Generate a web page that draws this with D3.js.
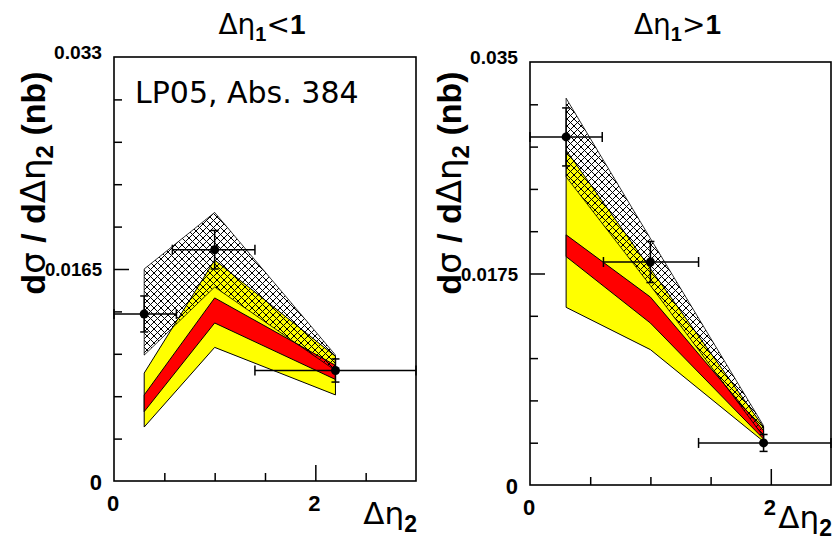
<!DOCTYPE html>
<html>
<head>
<meta charset="utf-8">
<script src="https://cdn.jsdelivr.net/npm/d3@7"></script>
<style>
body { margin: 0; background: #fff; }
svg { display: block; }
</style>
</head>
<body>
<svg id="chart_svg" width="840" height="543"></svg>
<script>
// ---- left panel: d(eta1) < 1 ----
var X_L      = [0.3, 1.0, 2.2];
var DATA_L   = [0.0130, 0.0180, 0.0086];
var YERR_L   = [0.0014, 0.0015, 0.0009];
var XLO_L    = [0.0, 0.58, 1.4];
var XHI_L    = [0.62, 1.4, 3.0];
var YEL_LO_L = [0.0042, 0.0104, 0.0067];
var YEL_HI_L = [0.0084, 0.0172, 0.0097];
var RED_LO_L = [0.0054, 0.0123, 0.0079];
var RED_HI_L = [0.0067, 0.01425, 0.0090];
var HAT_LO_L = [0.0098, 0.0151, 0.0086];
var HAT_HI_L = [0.0165, 0.0209, 0.0098];
var YMINOR_L = [0.0033, 0.0066, 0.0099, 0.0132, 0.0198, 0.0231, 0.0264, 0.0297];
var YMAJOR_L = [0.0165];
var YLAB_L   = ["0", "0.0165", "0.033"];

// ---- right panel: d(eta1) > 1 ----
var X_R      = [0.3, 1.0, 1.94];
var DATA_R   = [0.0288, 0.01845, 0.00348];
var YERR_R   = [0.0024, 0.0017, 0.0007];
var XLO_R    = [0.0, 0.61, 1.4];
var XHI_R    = [0.6, 1.4, 2.5];
var YEL_LO_R = [0.0147, 0.0112, 0.0036];
var YEL_HI_R = [0.0277, 0.0179, 0.0048];
var RED_LO_R = [0.0189, 0.0134, 0.0038];
var RED_HI_R = [0.0207, 0.01555, 0.0045];
var HAT_LO_R = [0.0255, 0.0165, 0.0040];
var HAT_HI_R = [0.0320, 0.0204, 0.0049];
var YMINOR_R = [0.0035, 0.007, 0.0105, 0.014, 0.021, 0.0245, 0.028, 0.0315];
var YMAJOR_R = [0.0175];
var YLAB_R   = ["0", "0.0175", "0.035"];

var XMINOR = [0.5, 1.0, 1.5, 2.5];
var XMAJOR = [2];
var XLAB   = ["0", "2"];

var FONT   = "'Liberation Sans', Arial, sans-serif";
var FONT_G = "'DejaVu Sans', sans-serif";

var svg = d3.select("#chart_svg");

function addHatch(){
    // diamond cross-hatch, black lines on transparent
    var pat = svg.append("defs").append("pattern")
        .attr("id", "xhatch")
        .attr("patternUnits", "userSpaceOnUse")
        .attr("width", 7)
        .attr("height", 7);
    pat.append("path")
        .attr("d", "M0,0L7,7M7,0L0,7")
        .attr("stroke", "#000")
        .attr("stroke-width", 1)
        .attr("fill", "none");
}

function drawPanel(p){
    var x = d3.scaleLinear().domain([0, p.xmax]).range([p.left, p.right]);
    var y = d3.scaleLinear().domain([0, p.ymax]).range([p.bottom, p.top]);
    var g = svg.append("g");

    // bands: yellow, red, hatched on top
    function band(lo, hi){
        return d3.area()
            .x(function(d, i){ return x(p.xs[i]); })
            .y0(function(d, i){ return y(lo[i]); })
            .y1(function(d, i){ return y(hi[i]); })(p.xs);
    }
    g.append("path").attr("d", band(p.yelLo, p.yelHi))
        .attr("fill", "#ffff00").attr("stroke", "#000").attr("stroke-width", 1);
    g.append("path").attr("d", band(p.redLo, p.redHi))
        .attr("fill", "#ff0000").attr("stroke", "#000").attr("stroke-width", 1);
    g.append("path").attr("d", band(p.hatLo, p.hatHi))
        .attr("fill", "url(#xhatch)").attr("stroke", "#000").attr("stroke-width", 0.8);

    // data points with error bars
    var pts = g.selectAll("g.pt")
        .data(p.vals.map(function(v, i){
            return {x: p.xs[i], v: v, e: p.err[i], lo: p.xlo[i], hi: p.xhi[i]};
        }))
        .enter().append("g")
        .attr("stroke", "#000")
        .attr("stroke-width", 1.5);
    pts.append("line")
        .attr("x1", function(d){ return x(d.lo); })
        .attr("x2", function(d){ return x(d.hi); })
        .attr("y1", function(d){ return y(d.v); })
        .attr("y2", function(d){ return y(d.v); });
    pts.append("line")
        .attr("x1", function(d){ return x(d.x); })
        .attr("x2", function(d){ return x(d.x); })
        .attr("y1", function(d){ return y(d.v - d.e); })
        .attr("y2", function(d){ return y(d.v + d.e); });
    // caps
    ["lo", "hi"].forEach(function(k){
        pts.append("line")
            .attr("x1", function(d){ return x(d[k]); })
            .attr("x2", function(d){ return x(d[k]); })
            .attr("y1", function(d){ return y(d.v) - 5; })
            .attr("y2", function(d){ return y(d.v) + 5; });
    });
    [-1, 1].forEach(function(s){
        pts.append("line")
            .attr("x1", function(d){ return x(d.x) - 4; })
            .attr("x2", function(d){ return x(d.x) + 4; })
            .attr("y1", function(d){ return y(d.v + s * d.e); })
            .attr("y2", function(d){ return y(d.v + s * d.e); });
    });
    pts.append("circle")
        .attr("cx", function(d){ return x(d.x); })
        .attr("cy", function(d){ return y(d.v); })
        .attr("r", 4.5)
        .attr("fill", "#000")
        .attr("stroke", "none");

    // frame
    g.append("rect")
        .attr("x", p.left).attr("y", p.top)
        .attr("width", p.right - p.left).attr("height", p.bottom - p.top)
        .attr("fill", "none").attr("stroke", "#000").attr("stroke-width", 1.6);

    // ticks (inside the frame)
    function ticks(axis){
        return function(s){
            s.call(axis);
            s.select(".domain").remove();
            s.selectAll(".tick line").attr("stroke-width", 1.5);
        };
    }
    g.append("g").attr("transform", "translate(" + p.left + ",0)")
        .call(ticks(d3.axisLeft(y).tickValues(p.yMinor).tickSize(-8).tickFormat("")));
    g.append("g").attr("transform", "translate(" + p.left + ",0)")
        .call(ticks(d3.axisLeft(y).tickValues(p.yMajor).tickSize(-15).tickFormat("")));
    g.append("g").attr("transform", "translate(0," + p.bottom + ")")
        .call(ticks(d3.axisBottom(x).tickValues(XMINOR.filter(function(v){ return v < p.xmax; })).tickSize(-8).tickFormat("")));
    g.append("g").attr("transform", "translate(0," + p.bottom + ")")
        .call(ticks(d3.axisBottom(x).tickValues(XMAJOR).tickSize(-16).tickFormat("")));

    // tick labels
    g.append("text")
        .attr("x", p.left - 12).attr("y", y(0) + 9)
        .attr("text-anchor", "end")
        .style("font-family", FONT).style("font-weight", "bold").style("font-size", "22px")
        .text(p.yLab[0]);
    g.append("text")
        .attr("x", p.left - 12).attr("y", y(p.ymax / 2) + 7)
        .attr("text-anchor", "end")
        .attr("textLength", 57).attr("lengthAdjust", "spacingAndGlyphs")
        .style("font-family", FONT).style("font-weight", "bold").style("font-size", "18px")
        .text(p.yLab[1]);
    g.append("text")
        .attr("x", p.left - 12).attr("y", y(p.ymax) + 2)
        .attr("text-anchor", "end")
        .attr("textLength", 48).attr("lengthAdjust", "spacingAndGlyphs")
        .style("font-family", FONT).style("font-weight", "bold").style("font-size", "18px")
        .text(p.yLab[2]);
    g.selectAll("text.xl")
        .data(XLAB)
        .enter().append("text")
        .attr("class", "xl")
        .attr("x", function(d){ return x(+d) - 1; })
        .attr("y", p.bottom + 30)
        .attr("text-anchor", "middle")
        .style("font-family", FONT).style("font-weight", "bold").style("font-size", "22px")
        .text(function(d){ return d; });

    // x title
    var xt = g.append("text")
        .attr("x", p.right + 1).attr("y", p.bottom + 43)
        .attr("text-anchor", "end")
        .style("font-family", FONT_G).style("font-size", "31px");
    xt.append("tspan").text("Δη");
    xt.append("tspan").attr("dy", 8).style("font-family", FONT).style("font-weight", "bold")
        .style("font-size", "23px").text("2");

    // y title (rotated)
    var yt = g.append("text")
        .attr("transform", "translate(" + (p.left - 69) + ",183) rotate(-90)")
        .attr("text-anchor", "middle")
        .style("font-family", FONT).style("font-weight", "bold").style("font-size", "34px");
    yt.append("tspan").text("d");
    yt.append("tspan").style("font-family", FONT_G).style("font-weight", "normal").text("σ");
    yt.append("tspan").text(" / d");
    yt.append("tspan").style("font-family", FONT_G).style("font-weight", "normal").text("Δη");
    yt.append("tspan").attr("dy", 8).style("font-size", "24px").text("2");
    yt.append("tspan").attr("dy", -8).text(" (nb)");

    // panel title
    var tt = g.append("text")
        .attr("x", (p.left + p.right) / 2 - 3).attr("y", 34)
        .attr("text-anchor", "middle")
        .style("font-family", FONT_G).style("font-size", "28px");
    tt.append("tspan").text("Δη");
    tt.append("tspan").attr("dy", 7).style("font-family", FONT).style("font-weight", "bold")
        .style("font-size", "20px").text("1");
    tt.append("tspan").attr("dy", -7).text(p.cut);
    tt.append("tspan").style("font-family", FONT).style("font-weight", "bold").text("1");
}

addHatch();

drawPanel({
    left: 114, right: 416, top: 57, bottom: 481, xmax: 3.0, ymax: 0.033,
    xs: X_L, vals: DATA_L, err: YERR_L, xlo: XLO_L, xhi: XHI_L,
    yelLo: YEL_LO_L, yelHi: YEL_HI_L, redLo: RED_LO_L, redHi: RED_HI_L,
    hatLo: HAT_LO_L, hatHi: HAT_HI_L,
    yMinor: YMINOR_L, yMajor: YMAJOR_L, yLab: YLAB_L, cut: "<"
});

drawPanel({
    left: 530, right: 831, top: 62, bottom: 485, xmax: 2.5, ymax: 0.035,
    xs: X_R, vals: DATA_R, err: YERR_R, xlo: XLO_R, xhi: XHI_R,
    yelLo: YEL_LO_R, yelHi: YEL_HI_R, redLo: RED_LO_R, redHi: RED_HI_R,
    hatLo: HAT_LO_R, hatHi: HAT_HI_R,
    yMinor: YMINOR_R, yMajor: YMAJOR_R, yLab: YLAB_R, cut: ">"
});

// annotation
svg.append("text")
    .attr("x", 135).attr("y", 103)
    .style("font-family", FONT_G).style("font-size", "30px")
    .text("LP05, Abs. 384");
</script>
</body>
</html>
